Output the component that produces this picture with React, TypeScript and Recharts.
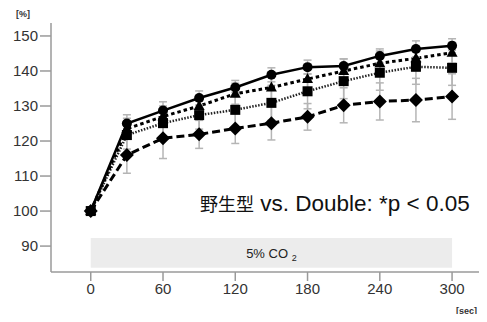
import { LineChart, Line, XAxis, YAxis, ReferenceArea, ErrorBar } from 'recharts'

// time points (sec)
const times = [0, 30, 60, 90, 120, 150, 180, 210, 240, 270, 300]

// four series, % of baseline
const circleVals = [100, 125, 128.7, 132.3, 135.3, 138.9, 141.1, 141.4, 144.3, 146.3, 147.2]
const circleErr = [0, 2.5, 2.5, 2, 2, 2, 2, 2, 2, 2.3, 2]
const triangleVals = [100, 123.5, 127, 130, 133.5, 135.3, 137.7, 140, 142.2, 143.6, 145.2]
const triangleErr = [0, 3, 3, 3, 3, 3.5, 3.5, 3.5, 3.5, 3.5, 3]
const squareVals = [100, 121.7, 125.1, 127.4, 128.9, 130.9, 134.2, 137.1, 139.5, 141.2, 140.9]
const squareErr = [0, 4, 4, 4, 5, 5, 5, 5, 5, 5, 5]
const diamondVals = [100, 116, 120.8, 121.9, 123.6, 125.1, 126.9, 130.2, 131.3, 131.7, 132.7]
const diamondErr = [0, 5.2, 5.8, 4, 4.3, 4.8, 3.8, 5, 5.3, 6.2, 6.5]

const xTicks = [0, 60, 120, 180, 240, 300]
const yTicks = [90, 100, 110, 120, 130, 140, 150]

const data = times.map((t, i) => ({
  t,
  c: circleVals[i], cErr: circleErr[i],
  tr: triangleVals[i], trErr: triangleErr[i],
  s: squareVals[i], sErr: squareErr[i],
  d: diamondVals[i], dErr: diamondErr[i],
}))

const AXIS = '#9a9a9a'
const font = '"Liberation Sans", Arial, sans-serif'

const CircleDot = (p: any) => <circle cx={p.cx} cy={p.cy} r={5} fill="#000" />
const TriDot = (p: any) => (
  <polygon points={`${p.cx},${p.cy - 6} ${p.cx + 5.5},${p.cy + 4} ${p.cx - 5.5},${p.cy + 4}`} fill="#000" />
)
const SquareDot = (p: any) => <rect x={p.cx - 5} y={p.cy - 5} width={10} height={10} fill="#000" />
const DiamondDot = (p: any) => (
  <polygon points={`${p.cx},${p.cy - 7} ${p.cx + 7},${p.cy} ${p.cx},${p.cy + 7} ${p.cx - 7},${p.cy}`} fill="#000" />
)

const Co2Label = (props: any) => {
  const vb = props.viewBox
  const cx = vb.x + vb.width / 2
  const cy = vb.y + vb.height / 2
  return (
    <text x={cx} y={cy + 5} textAnchor="middle" fontFamily={font} fontSize={13} fill="#222">
      5% CO <tspan fontSize={9} dy={3}>2</tspan>
    </text>
  )
}

export default function App() {
  return (
    <div style={{ position: 'relative', width: 487, height: 322, margin: -8, background: '#fff' }}>
      <LineChart width={487} height={322} data={data} margin={{ top: 23, right: 0, left: 0, bottom: 0 }}>
        <XAxis
          dataKey="t"
          type="number"
          domain={[-33, 329]}
          ticks={xTicks}
          height={50}
          stroke={AXIS}
          strokeWidth={1.5}
          tickSize={9}
          tick={{ fill: '#333', fontSize: 15, fontFamily: font }}
        />
        <XAxis xAxisId="top" orientation="top" dataKey="t" type="number" domain={[-33, 329]} tick={false} height={0} stroke={AXIS} strokeWidth={1.5} />
        <YAxis
          type="number"
          domain={[82.6, 153.7]}
          ticks={yTicks}
          width={51}
          stroke={AXIS}
          strokeWidth={1.5}
          tickSize={11}
          tick={{ fill: '#333', fontSize: 15, fontFamily: font }}
        />
        <ReferenceArea x1={0} x2={300} y1={83.8} y2={92.3} fill="#ececec" fillOpacity={1} stroke="none" label={<Co2Label />} />

        <Line dataKey="d" stroke="#000" strokeWidth={3} strokeDasharray="8 4" dot={<DiamondDot />} activeDot={false} isAnimationActive={false}>
          <ErrorBar dataKey="dErr" width={4} stroke="#b5b5b5" strokeWidth={1.5} direction="y" />
        </Line>
        <Line dataKey="s" stroke="#222" strokeWidth={2.5} strokeDasharray="1.5 1.5" dot={<SquareDot />} activeDot={false} isAnimationActive={false}>
          <ErrorBar dataKey="sErr" width={4} stroke="#b5b5b5" strokeWidth={1.5} direction="y" />
        </Line>
        <Line dataKey="tr" stroke="#000" strokeWidth={3} strokeDasharray="3.5 3" dot={<TriDot />} activeDot={false} isAnimationActive={false}>
          <ErrorBar dataKey="trErr" width={4} stroke="#b5b5b5" strokeWidth={1.5} direction="y" />
        </Line>
        <Line dataKey="c" stroke="#000" strokeWidth={2.5} dot={<CircleDot />} activeDot={false} isAnimationActive={false}>
          <ErrorBar dataKey="cErr" width={4} stroke="#b5b5b5" strokeWidth={1.5} direction="y" />
        </Line>
      </LineChart>

      <div style={{ position: 'absolute', left: 16, top: 9, fontFamily: font, fontSize: 9, fontWeight: 'bold', color: '#333' }}>[%]</div>
      <div style={{ position: 'absolute', left: 456, top: 306, fontFamily: font, fontSize: 9, fontWeight: 'bold', color: '#333' }}>[sec]</div>
      <div
        style={{
          position: 'absolute', left: 200, top: 190, color: '#111', whiteSpace: 'nowrap', lineHeight: '26px',
          fontFamily: '"Liberation Sans", Arial, sans-serif',
        }}
      >
        <span style={{ fontFamily: '"Noto Sans CJK JP", sans-serif', fontSize: 18 }}>野生型</span>
        <span style={{ fontSize: 22.5 }}> vs. Double: *p &lt; 0.05</span>
      </div>
    </div>
  )
}
